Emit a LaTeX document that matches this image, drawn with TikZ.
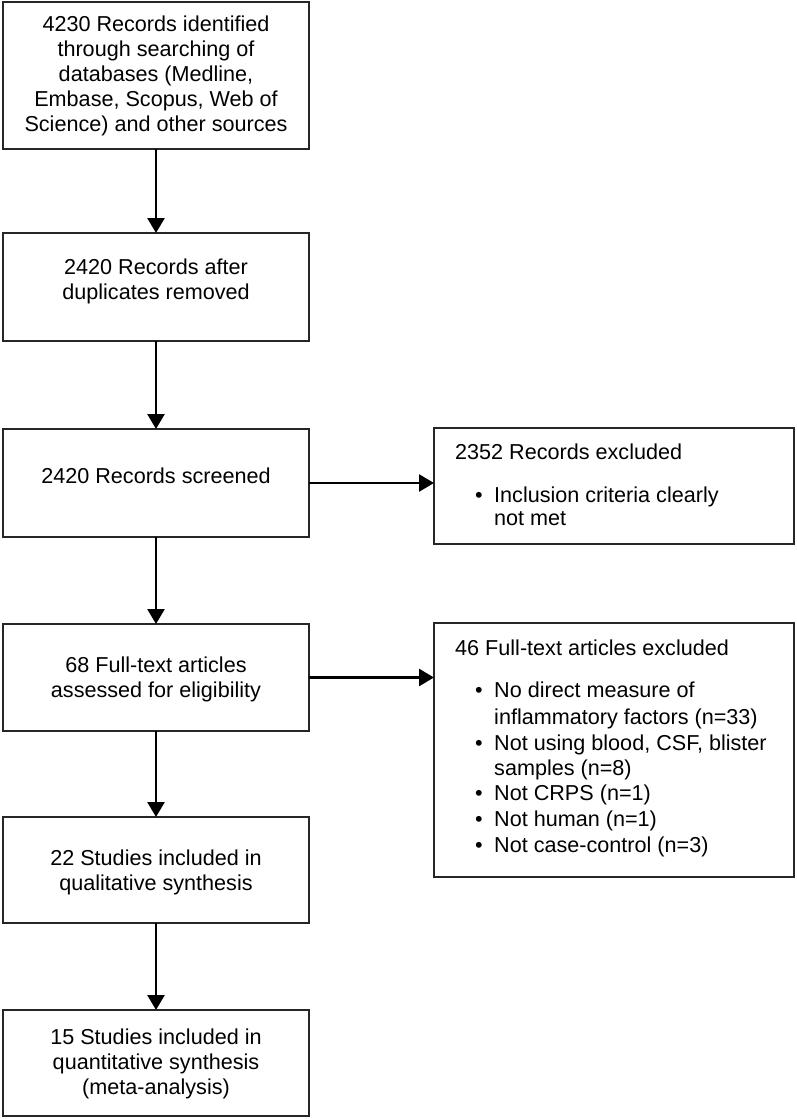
\documentclass[tikz,border=0pt]{standalone}
\usepackage{fontspec}
\setmainfont{Liberation Sans}
\usetikzlibrary{arrows.meta,calc}
\begin{document}
\begin{tikzpicture}[x=1pt,y=-1pt,
  box/.style={draw=black!85,line width=1.4pt,minimum width=306pt,inner sep=0pt,outer sep=0pt},
  rbox/.style={draw=black!85,line width=1.4pt,minimum width=360pt,inner sep=0pt,outer sep=0pt},
  txt/.style={align=center,font=\fontsize{21.6}{25}\selectfont,inner sep=0pt},
  rtxt/.style={anchor=base west,font=\fontsize{21.6}{25}\selectfont,inner sep=0pt},
  arr/.style={line width=2.6pt,-{Triangle[width=17pt,length=15pt]}}]
\useasboundingbox[fill=white] (0,0) rectangle (797,1119);
\node[box,minimum height=147pt] (b1) at (156,75.5) {};
\node[box,minimum height=108pt] (b2) at (156,287) {};
\node[box,minimum height=108pt] (b3) at (156,483) {};
\node[box,minimum height=107pt] (b4) at (156,677.5) {};
\node[box,minimum height=106pt] (b5) at (156,870) {};
\node[box,minimum height=106pt] (b6) at (156,1063) {};
\node[rbox,minimum height=116pt] (r1) at (614,486) {};
\node[rbox,minimum height=254pt] (r2) at (614,750) {};
% left texts
\node[txt] (t1) at (156,76) {4230 Records identified\\through searching of\\databases (Medline,\\Embase, Scopus, Web of\\Science) and other sources};
\node[txt] (t2) at (156,281) {2420 Records after\\duplicates removed};
\node[txt] (t3) at (156,476) {2420 Records screened};
\node[txt] (t4) at (156,679) {68 Full-text articles\\assessed for eligibility};
\node[txt] (t5) at (156,872) {22 Studies included in\\qualitative synthesis};
\node[txt] (t6) at (156,1064) {15 Studies included in\\quantitative synthesis\\(meta-analysis)};
% right box 1
\node[rtxt] (h1) at (455,459.5) {2352 Records excluded};
\node[rtxt] (p1) at (475,502.5) {\textbullet};
\node[rtxt] (l1a) at (494,502.5) {Inclusion criteria clearly};
\node[rtxt] (l1b) at (494,525.5) {not met};
% right box 2
\node[rtxt] (h2) at (455,655.5) {46 Full-text articles excluded};
\node[rtxt] (p2a) at (475,697.5) {\textbullet};
\node[rtxt] (l2a) at (494,697.5) {No direct measure of};
\node[rtxt] (l2b) at (494,724) {inflammatory factors (n=33)};
\node[rtxt] (p2c) at (475,750.5) {\textbullet};
\node[rtxt] (l2c) at (494,750.5) {Not using blood, CSF, blister};
\node[rtxt] (l2d) at (494,775.5) {samples (n=8)};
\node[rtxt] (p2e) at (475,800.5) {\textbullet};
\node[rtxt] (l2e) at (494,800.5) {Not CRPS (n=1)};
\node[rtxt] (p2f) at (475,826.5) {\textbullet};
\node[rtxt] (l2f) at (494,826.5) {Not human (n=1)};
\node[rtxt] (p2g) at (475,852.5) {\textbullet};
\node[rtxt] (l2g) at (494,852.5) {Not case-control (n=3)};
% connectors
\draw[arr] (b1.south) -- (b2.north);
\draw[arr] (b2.south) -- (b3.north);
\draw[arr] (b3.south) -- (b4.north);
\draw[arr] (b4.south) -- (b5.north);
\draw[arr] (b5.south) -- (b6.north);
\draw[arr] (b3.east) -- (b3.east -| r1.west);
\draw[arr] (b4.east) -- (b4.east -| r2.west);
\end{tikzpicture}
\end{document}
